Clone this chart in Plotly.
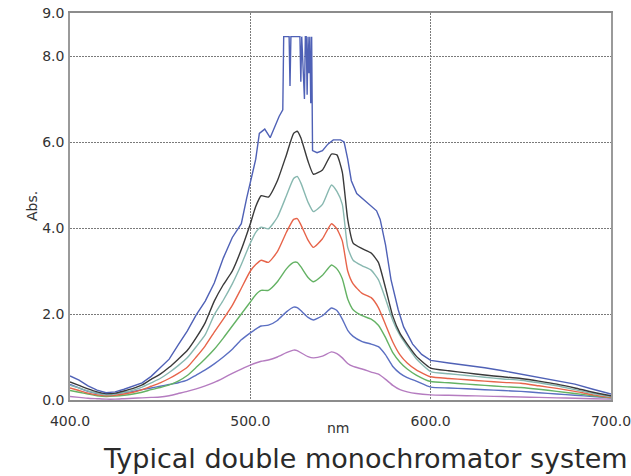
import plotly.graph_objects as go

# ---------------- data ----------------
X_COMMON = [400, 405, 410, 415, 420, 425, 430, 435, 440, 445, 450, 455, 460, 465, 470,
            475, 480, 485, 490, 495, 500, 503, 506, 510, 515, 520, 524, 526, 528, 532,
            535, 540, 545, 548, 551, 554, 557, 562, 567, 571, 575, 579, 583, 587, 592,
            600, 610, 620, 630, 640, 650, 660, 670, 680, 690, 700]

Y_BLACK = [0.42, 0.34, 0.26, 0.19, 0.15, 0.16, 0.21, 0.27, 0.35, 0.48, 0.60, 0.76, 0.95, 1.15, 1.45,
           1.80, 2.30, 2.68, 3.00, 3.50, 4.10, 4.50, 4.75, 4.72, 5.10, 5.70, 6.20, 6.25, 6.10, 5.55,
           5.25, 5.35, 5.72, 5.70, 5.30, 4.20, 3.65, 3.52, 3.42, 3.20, 2.60, 1.95, 1.55, 1.30, 1.02,
           0.74, 0.68, 0.63, 0.58, 0.54, 0.50, 0.44, 0.37, 0.28, 0.18, 0.10]

Y_TEAL = [0.34, 0.28, 0.21, 0.16, 0.12, 0.14, 0.18, 0.23, 0.30, 0.40, 0.50, 0.64, 0.80, 0.98, 1.24,
          1.52, 1.98, 2.32, 2.70, 3.15, 3.65, 3.90, 4.02, 3.98, 4.25, 4.75, 5.15, 5.20, 5.05, 4.60,
          4.38, 4.55, 5.00, 4.85, 4.55, 3.55, 3.25, 3.12, 3.02, 2.80, 2.35, 1.85, 1.50, 1.25, 0.96,
          0.66, 0.61, 0.57, 0.53, 0.49, 0.46, 0.40, 0.33, 0.24, 0.15, 0.08]

Y_RED = [0.28, 0.22, 0.16, 0.12, 0.10, 0.11, 0.14, 0.18, 0.24, 0.32, 0.40, 0.50, 0.62, 0.76, 1.00,
         1.26, 1.58, 1.88, 2.20, 2.60, 3.00, 3.15, 3.25, 3.20, 3.45, 3.90, 4.20, 4.22, 4.08, 3.72,
         3.55, 3.75, 4.10, 3.98, 3.70, 3.00, 2.70, 2.48, 2.38, 2.15, 1.75, 1.35, 1.05, 0.86, 0.70,
         0.54, 0.50, 0.47, 0.44, 0.41, 0.39, 0.33, 0.27, 0.20, 0.12, 0.06]

Y_GREEN = [0.22, 0.18, 0.14, 0.10, 0.08, 0.09, 0.11, 0.14, 0.18, 0.24, 0.29, 0.35, 0.44, 0.57, 0.76,
           0.96, 1.18, 1.44, 1.72, 2.00, 2.28, 2.45, 2.55, 2.55, 2.75, 3.05, 3.20, 3.20, 3.10, 2.85,
           2.75, 2.90, 3.14, 3.05, 2.82, 2.35, 2.10, 1.96, 1.88, 1.74, 1.45, 1.10, 0.88, 0.72, 0.58,
           0.43, 0.40, 0.37, 0.34, 0.31, 0.29, 0.25, 0.20, 0.15, 0.10, 0.05]

Y_BLUE_LOW = [0.36, 0.28, 0.20, 0.15, 0.13, 0.14, 0.17, 0.20, 0.24, 0.28, 0.32, 0.36, 0.40, 0.46, 0.58,
              0.70, 0.84, 1.00, 1.18, 1.40, 1.56, 1.65, 1.72, 1.74, 1.85, 2.05, 2.16, 2.15, 2.08, 1.92,
              1.86, 1.96, 2.14, 2.08, 1.88, 1.62, 1.48, 1.36, 1.30, 1.24, 1.05, 0.78, 0.62, 0.52, 0.44,
              0.30, 0.28, 0.26, 0.24, 0.22, 0.20, 0.17, 0.14, 0.11, 0.08, 0.05]

Y_PURPLE = [0.08, 0.06, 0.04, 0.03, 0.02, 0.02, 0.03, 0.04, 0.05, 0.06, 0.07, 0.10, 0.15, 0.20, 0.26,
            0.33, 0.41, 0.51, 0.62, 0.72, 0.81, 0.86, 0.90, 0.93, 1.00, 1.10, 1.16, 1.15, 1.10, 1.01,
            0.98, 1.02, 1.12, 1.08, 0.98, 0.85, 0.78, 0.72, 0.65, 0.60, 0.48, 0.34, 0.24, 0.19, 0.15,
            0.12, 0.11, 0.10, 0.09, 0.08, 0.07, 0.06, 0.05, 0.04, 0.03, 0.02]

X_TOP = [400, 405, 410, 415, 420, 425, 430, 435, 440, 445, 450, 455, 460, 465, 470, 475, 480, 485,
         490, 495, 498, 500, 503, 505, 508, 511, 514, 516, 518,
         518.5, 520, 521.5, 522, 522.5, 525, 527.5, 528, 528.5, 530, 530.5, 531, 531.5, 532, 532.5,
         533, 533.5, 534, 534.5,
         537, 540, 543, 546, 550, 552, 554, 556, 559, 563, 567, 570, 572, 575, 578, 582, 585, 590,
         595, 600, 610, 620, 630, 640, 650, 660, 670, 680, 690, 700]

Y_TOP = [0.56, 0.46, 0.33, 0.23, 0.17, 0.19, 0.25, 0.32, 0.40, 0.55, 0.75, 0.95, 1.28, 1.60, 1.98, 2.30, 2.72, 3.30,
         3.78, 4.10, 4.70, 5.05, 5.60, 6.20, 6.30, 6.10, 6.40, 6.60, 6.75,
         8.45, 8.45, 8.45, 7.30, 8.45, 8.45, 8.45, 7.40, 8.45, 7.00, 8.45, 8.45, 7.10, 8.45, 7.60,
         8.45, 6.90, 8.45, 5.80,
         5.75, 5.80, 5.95, 6.05, 6.05, 6.00, 5.60, 5.10, 4.80, 4.65, 4.50, 4.40, 4.20, 3.60, 2.80, 2.10, 1.70, 1.30,
         1.06, 0.92, 0.86, 0.81, 0.75, 0.68, 0.60, 0.53, 0.45, 0.37, 0.25, 0.14]

X_TICKS = [400, 500, 600, 700]
X_TICKTEXT = ["400.0", "500.0", "600.0", "700.0"]
Y_TICKS = [0, 2, 4, 6, 8, 9]
Y_TICKTEXT = ["0.0", "2.0", "4.0", "6.0", "8.0", "9.0"]

assert len(X_TOP) == len(Y_TOP)
for arr in (Y_BLACK, Y_TEAL, Y_RED, Y_GREEN, Y_BLUE_LOW, Y_PURPLE):
    assert len(arr) == len(X_COMMON)

# ---------------- figure ----------------
W, H = 631, 476
L, R, T, B = 70, 20, 13, 76
PW, PH = W - L - R, H - T - B

FONT = "DejaVu Sans"

series = [
    ("purple", X_COMMON, Y_PURPLE, "#b57cc0"),
    ("blue2", X_COMMON, Y_BLUE_LOW, "#5b6fc2"),
    ("green", X_COMMON, Y_GREEN, "#64b264"),
    ("red", X_COMMON, Y_RED, "#e7644a"),
    ("teal", X_COMMON, Y_TEAL, "#88b8b0"),
    ("black", X_COMMON, Y_BLACK, "#3a3a3a"),
]

fig = go.Figure()
for name, xs, ys, col in series:
    fig.add_trace(go.Scatter(x=xs, y=ys, mode="lines", name=name,
                             line=dict(color=col, width=1.4, shape="spline", smoothing=0.5)))
fig.add_trace(go.Scatter(x=X_TOP, y=Y_TOP, mode="lines", name="blue1",
                         line=dict(color="#4f61b6", width=1.4)))


def px_to_paper_x(px):
    return (px - L) / PW


def px_to_paper_y(py):
    return (H - B - py) / PH


fig.update_layout(
    width=W, height=H,
    margin=dict(l=L, r=R, t=T, b=B, pad=0, autoexpand=False),
    paper_bgcolor="white", plot_bgcolor="white",
    showlegend=False,
    font=dict(family=FONT, size=14, color="#333333"),
    xaxis=dict(range=[400, 700], tickvals=X_TICKS, ticktext=X_TICKTEXT,
               showgrid=True, gridcolor="#7a7a7a", griddash="2px,1px", gridwidth=1,
               showline=True, linecolor="#8c8c8c", linewidth=1.5, mirror=True,
               ticks="", zeroline=False, ticklabelstandoff=7, ticklabeloverflow="allow",
               automargin=False,
               tickfont=dict(family=FONT, size=14, color="#333333")),
    yaxis=dict(range=[0, 9], tickvals=Y_TICKS, ticktext=Y_TICKTEXT,
               showgrid=True, gridcolor="#7a7a7a", griddash="2px,1px", gridwidth=1,
               showline=True, linecolor="#9a9a9a", linewidth=1.5, mirror=True,
               ticks="", zeroline=False, ticklabelstandoff=1, ticklabeloverflow="allow",
               automargin=False,
               tickfont=dict(family=FONT, size=14, color="#333333")),
    annotations=[
        dict(text="Abs.", xref="paper", yref="paper", x=px_to_paper_x(32), y=px_to_paper_y(206),
             showarrow=False, textangle=-90, xanchor="center", yanchor="middle",
             font=dict(family=FONT, size=14, color="#333333")),
        dict(text="nm", xref="paper", yref="paper", x=px_to_paper_x(338), y=px_to_paper_y(428),
             showarrow=False, xanchor="center", yanchor="middle",
             font=dict(family=FONT, size=14, color="#333333")),
        dict(text="Typical double monochromator system", xref="paper", yref="paper",
             x=px_to_paper_x(365), y=px_to_paper_y(458),
             showarrow=False, xanchor="center", yanchor="middle",
             font=dict(family=FONT, size=27, color="#2a2a2a")),
    ],
)

fig.write_html("out.html")
